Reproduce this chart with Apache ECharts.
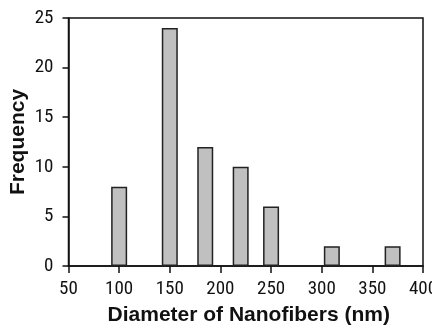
<!DOCTYPE html>
<html>
<head>
<meta charset="utf-8">
<script src="https://cdn.jsdelivr.net/npm/echarts@6/dist/echarts.min.js"></script>
<style>html,body{margin:0;padding:0;background:#fff}#c{width:432px;height:327px}</style>
</head>
<body>
<div id="c"></div>
<script>
const diameters = [100, 150, 185, 220, 250, 310, 370];
const frequency = [8, 24, 12, 10, 6, 2, 2];
const xTitle = 'Diameter of Nanofibers (nm)';
const yTitle = 'Frequency';

const chart = echarts.init(document.getElementById('c'));
const lab = {fontFamily: '"Roboto Condensed", "Liberation Sans", Arial, sans-serif', fontSize: 19, color: '#111'};
const line = {lineStyle: {color: '#111', width: 1.5}};
const nameStyle = {fontFamily: '"Liberation Sans", Arial, sans-serif', fontWeight: 'bold', fontSize: 21, color: '#111'};
chart.setOption({
  animation: false,
  grid: {left: 68.5, right: 9, top: 18, bottom: 61, show: true, borderColor: '#111', borderWidth: 1.5, outerBoundsMode: 'none', containLabel: false},
  xAxis: {
    type: 'value', min: 50, max: 400, interval: 50,
    axisLine: Object.assign({show: true}, line),
    axisTick: Object.assign({show: true, length: 7, inside: false}, line),
    splitLine: {show: false},
    axisLabel: Object.assign({margin: 14}, lab),
    name: xTitle, nameLocation: 'middle', nameGap: 39, nameMoveOverlap: false,
    nameTextStyle: Object.assign({padding: [0, 0, 0, 6]}, nameStyle)
  },
  yAxis: {
    type: 'value', min: 0, max: 25, interval: 5,
    axisLine: Object.assign({show: true}, line),
    axisTick: Object.assign({show: true, length: 6}, line),
    splitLine: {show: false},
    axisLabel: Object.assign({margin: 15}, lab),
    name: yTitle, nameLocation: 'middle', nameGap: 40, nameMoveOverlap: false,
    nameTextStyle: nameStyle
  },
  series: [{
    type: 'bar',
    barWidth: 16,
    data: diameters.map((d, i) => [d, frequency[i]]),
    itemStyle: {color: '#c0c0c0', borderColor: '#222', borderWidth: 1.5}
  }]
});
</script>
</body>
</html>
